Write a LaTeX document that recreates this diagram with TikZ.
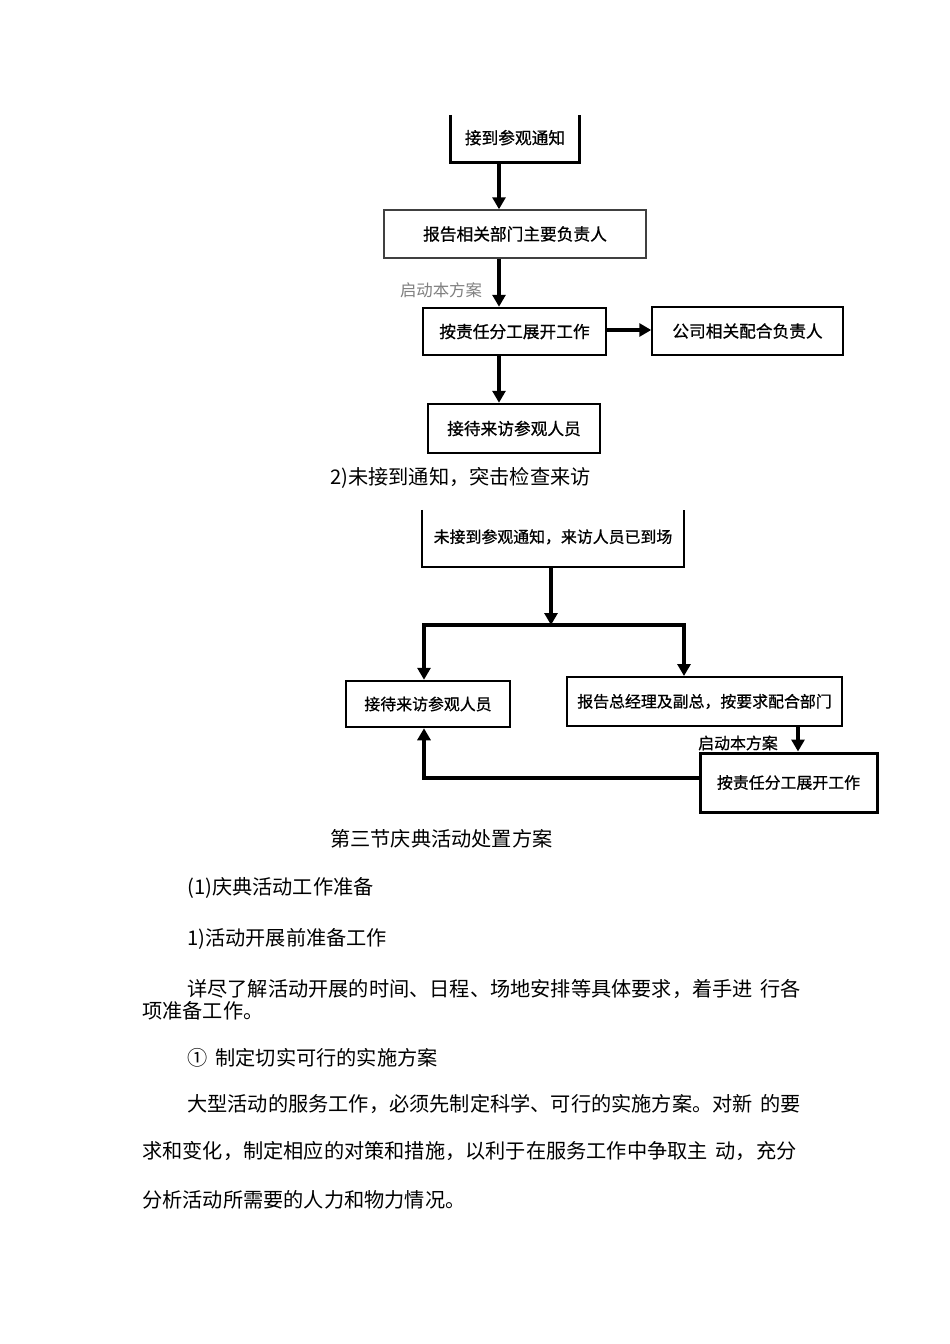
\documentclass[tikz,border=0pt]{standalone}
\usepackage{fontspec}
\setmainfont{Noto Sans CJK SC}
\newfontfamily\flowfont{Noto Sans CJK SC}[FakeBold=0.8]
\usetikzlibrary{arrows.meta}
\newcommand\flowfs{\flowfont\fontsize{16.7pt}{18pt}\selectfont}
\newcommand\flowfsb{\flowfont\fontsize{15.9pt}{18pt}\selectfont}
\newcommand\bodyfs{\fontsize{20.2pt}{24pt}\selectfont}
\begin{document}
\begin{tikzpicture}[x=1pt,y=-1pt,
  arr/.style={line width=3.5pt,-{Triangle[width=13pt,length=12pt]}},
  flowline/.style={line width=3.5pt},
  fbox/.style={draw,rectangle,inner sep=0pt,font=\flowfs},
  fboxb/.style={draw,rectangle,inner sep=0pt,font=\flowfsb},
  openbox/.style={rectangle,inner sep=0pt},
  lbl/.style={inner sep=0pt},
  body/.style={anchor=base west,inner sep=0pt,font=\bodyfs}]
\useasboundingbox (0,0) rectangle (950,1344);
\fill[white] (0,0) rectangle (950,1344);

% ---------- first flowchart ----------
\node[openbox,font=\flowfs,minimum width=128pt,minimum height=47pt] (b1) at (515,138.5) {\raisebox{3pt}{接到参观通知}};
\draw[line width=3pt] (b1.north west) -- (b1.south west) -- (b1.south east) -- (b1.north east);
\node[fbox,line width=1.5pt,draw=black!75,minimum width=262pt,minimum height=48pt] (b2) at (515,234) {报告相关部门主要负责人};
\node[fbox,line width=2.5pt,minimum width=183pt,minimum height=47pt] (b3) at (514.5,331.5) {按责任分工展开工作};
\node[fbox,line width=1.5pt,minimum width=191pt,minimum height=48pt] (b4) at (747.5,331) {公司相关配合负责人};
\node[fbox,line width=2.5pt,minimum width=172pt,minimum height=49pt] (b5) at (514,428.5) {接待来访参观人员};
\coordinate (cx1) at (499,0);
\coordinate (cy1) at (0,330);
\draw[arr] (b1.south -| cx1) -- (b2.north -| cx1);
\draw[arr] (b2.south -| cx1) -- (b3.north -| cx1);
\draw[arr] (b3.south -| cx1) -- (b5.north -| cx1);
\draw[arr] (b3.east |- cy1) -- (b4.west |- cy1);
\node[lbl,font=\fontsize{16.4pt}{18pt}\selectfont,text=black!50] (l1) at (441,290) {启动本方案};

\node[body] (cap1) at (330,484.5) {2)未接到通知，突击检查来访};

% ---------- second flowchart ----------
\node[openbox,font=\flowfsb,minimum width=262pt,minimum height=57pt] (a) at (553,538.5) {\raisebox{5pt}{未接到参观通知，来访人员已到场}};
\draw[line width=2.5pt] (a.north west) -- (a.south west) -- (a.south east) -- (a.north east);
\node[fboxb,line width=2.5pt,minimum width=164pt,minimum height=46pt] (b) at (428,704) {接待来访参观人员};
\node[fboxb,line width=2pt,minimum width=275pt,minimum height=49pt] (c) at (704.5,701.5) {报告总经理及副总，按要求配合部门};
\node[fboxb,line width=3pt,minimum width=177pt,minimum height=59pt] (d) at (788.5,782.5) {按责任分工展开工作};
\coordinate (j) at (551,625);
\coordinate (jl) at (424,625);
\coordinate (jr) at (684,625);
\coordinate (cx2) at (798,0);
\coordinate (cy2) at (0,778);
\draw[arr] (a.south -| j) -- (j);
\draw[flowline] ([xshift=-1.75pt]jl) -- ([xshift=1.75pt]jr);
\draw[arr] (jl) -- (b.north -| jl);
\draw[arr] (jr) -- (c.north -| jr);
\draw[arr] (c.south -| cx2) -- (d.north -| cx2);
\draw[arr] (d.west |- cy2) -| (b.south -| jl);
\node[lbl,font=\flowfsb] (l2) at (738,743) {启动本方案};

% ---------- body text ----------
\node[body] (t1) at (330,846.5) {第三节庆典活动处置方案};
\node[body] (t2) at (187,894.5) {(1)庆典活动工作准备};
\node[body] (t3) at (187,945.5) {1)活动开展前准备工作};
\node[body] (t4) at (187,996.5) {详尽了解活动开展的时间、日程、场地安排等具体要求，着手进\hspace{8pt}行各};
\node[body] (t5) at (142,1018.5) {项准备工作。};
\node[body] (t6) at (187,1065.5) {①\hspace{8pt}制定切实可行的实施方案};
\node[body] (t7) at (187,1111.5) {大型活动的服务工作，必须先制定科学、可行的实施方案。对新\hspace{8pt}的要};
\node[body] (t8) at (142,1158.5) {求和变化，制定相应的对策和措施，以利于在服务工作中争取主\hspace{8pt}动，充分};
\node[body] (t9) at (142,1207.5) {分析活动所需要的人力和物力情况。};
\end{tikzpicture}
\end{document}
